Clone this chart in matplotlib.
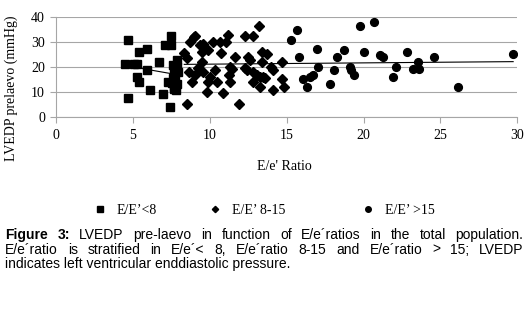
import matplotlib
matplotlib.use('Agg')
import matplotlib.pyplot as plt
from matplotlib.lines import Line2D
import numpy as np

# E/e' < 8 (squares)
sq_x = [4.66, 4.49, 5.05, 5.3, 5.38, 5.95, 5.95, 5.25, 5.42, 4.66, 6.1, 6.7, 6.94, 7.1,
        7.45, 7.46, 7.4, 7.3, 7.63, 7.85, 7.7, 7.75, 7.8, 7.65, 7.9, 7.7, 7.8, 7.6,
        7.95, 7.7, 7.85, 7.55]
sq_y = [30.9, 21.1, 21.2, 21.2, 26.2, 27.2, 18.8, 16.1, 14.1, 7.4, 10.8, 22.0, 9.2, 29.0,
        29.0, 32.4, 4.0, 14.1, 20.8, 22.9, 17.5, 16.0, 19.0, 14.5, 13.0, 12.0, 10.8, 15.5,
        18.0, 11.0, 20.0, 13.5]

# E/e' 8-15 (diamonds)
dm_x = [8.34, 8.5, 8.5, 8.71, 8.97, 8.67, 8.82, 9.04, 9.36, 9.47, 9.25, 9.47, 9.58, 9.8,
        9.9, 10.0, 9.9, 10.23, 10.34, 10.5, 10.7, 10.66, 10.88, 11.05, 11.2, 11.3, 11.27,
        11.3, 11.64, 11.9, 11.42, 12.29, 12.79, 13.2, 12.5, 12.6, 12.29, 12.4, 12.83,
        13.05, 13.26, 13.48, 13.59, 13.26, 12.79, 13.37, 13.74, 13.37, 14.0, 14.13, 14.09,
        14.67, 14.67, 14.82, 9.04, 9.58]
dm_y = [25.6, 23.5, 5.0, 30.2, 32.0, 18.1, 14.1, 16.8, 28.9, 26.2, 19.5, 22.2, 18.1, 10.1,
        26.9, 16.1, 14.1, 30.2, 18.8, 14.1, 25.8, 30.2, 9.4, 30.2, 32.9, 20.2, 16.8,
        14.1, 24.2, 5.0, 19.1, 32.3, 32.3, 36.6, 24.2, 22.9, 19.5, 18.8, 18.1,
        16.8, 16.1, 16.1, 15.5, 12.1, 14.1, 26.2, 25.2, 22.2, 20.2, 18.8, 10.8,
        22.2, 15.1, 12.1, 32.5, 29.2]

# E/e' > 15 (circles)
ci_x = [15.26, 15.65, 15.8, 16.95, 17.06, 16.04, 16.34, 16.51, 16.73, 17.8, 18.08, 18.29,
        18.73, 19.1, 19.16, 19.4, 19.75, 20.7, 20.0, 21.07, 21.24, 21.93, 22.1, 22.8,
        23.2, 23.6, 23.56, 24.58, 26.16, 29.73]
ci_y = [30.8, 35.0, 24.2, 27.2, 20.2, 15.1, 12.1, 16.1, 16.8, 13.0, 18.8, 24.2,
        26.9, 20.2, 18.8, 16.8, 36.3, 38.0, 26.0, 25.0, 24.2, 16.1, 20.0, 26.1,
        19.0, 19.0, 22.2, 24.2, 11.9, 25.2]

labels = ['E/E\u2019<8', 'E/E\u2019 8-15', 'E/E\u2019 >15']
markers = ['s', 'D', 'o']
sizes = [5.8, 4.6, 5.6]

serif = 'Liberation Serif'
sans = 'Liberation Sans'
W, H = 529, 310

fig = plt.figure(figsize=(W / 100, H / 100), dpi=100)
ax = fig.add_axes([56 / W, 1 - 116.7 / H, (517.3 - 56) / W, (116.7 - 17.3) / H])

series = [(sq_x, sq_y), (dm_x, dm_y), (ci_x, ci_y)]
for (xs, ys), m, s in zip(series, markers, sizes):
    ax.plot(xs, ys, linestyle='none', marker=m, markersize=s, color='black', zorder=3)

# linear trend lines: E/e'<8 alone, and E/e' >= 8 (diamonds + circles) together
fits = [(sq_x, sq_y), (dm_x + ci_x, dm_y + ci_y)]
for xs, ys in fits:
    k, b = np.polyfit(xs, ys, 1)
    xx = np.array([min(xs), max(xs)])
    ax.plot(xx, k * xx + b, color='black', linewidth=0.8, zorder=4)

ax.set_xlim(0, 30)
ax.set_ylim(0, 40)
ax.set_xticks(range(0, 31, 5))
ax.set_yticks(range(0, 41, 10))
ax.yaxis.grid(True, color='#a6a6a6', linewidth=0.8)
ax.set_axisbelow(True)
for sp in ['top', 'right']:
    ax.spines[sp].set_visible(False)
for sp in ['left', 'bottom']:
    ax.spines[sp].set_color('#a6a6a6')
    ax.spines[sp].set_linewidth(0.8)
ax.tick_params(axis='both', colors='#a6a6a6', labelcolor='black', length=4, width=0.8,
               labelsize=10)
for t in ax.get_xticklabels() + ax.get_yticklabels():
    t.set_fontfamily(serif)
ax.tick_params(axis='x', pad=5)
ax.tick_params(axis='y', pad=4)

ax.set_xlabel("E/e' Ratio", fontfamily=serif, fontsize=10)
ax.xaxis.label.set_va('center')
ax.xaxis.set_label_coords(0.496, -0.496)
ax.set_ylabel('LVEDP prelaevo (mmHg)', fontfamily=serif, fontsize=10)
ax.yaxis.label.set_va('center')
ax.yaxis.set_label_coords(-0.0975, 0.289)

# legend, one entry at a time (unequal spacing like the original)
leg_x = [93, 208, 361]
for lx, lab, m in zip(leg_x, labels, markers):
    h = Line2D([], [], linestyle='none', marker=m, color='black',
               markersize={'s': 5, 'D': 3.2, 'o': 4}[m])
    lg = fig.legend(handles=[h], labels=[lab], loc='center left',
                    bbox_to_anchor=(lx / W, 1 - 210 / H), frameon=False,
                    handlelength=1.0, handletextpad=0.7, borderpad=0, borderaxespad=0,
                    prop={'family': serif, 'size': 10})

# caption, justified
cap_lines = [
    [('Figure', True), ('3:', True), ('LVEDP', False), ('pre-laevo', False), ('in', False),
     ('function', False), ('of', False), ('E/e\u00b4ratios', False), ('in', False),
     ('the', False), ('total', False), ('population.', False)],
    [('E/e\u00b4ratio', False), ('is', False), ('stratified', False), ('in', False),
     ('E/e\u00b4<', False), ('8,', False), ('E/e\u00b4ratio', False), ('8-15', False),
     ('and', False), ('E/e\u00b4ratio', False), ('>', False), ('15;', False), ('LVEDP', False)],
]
last_line = 'indicates left ventricular enddiastolic pressure.'
base_y = [239, 253.5, 268]
x_left, x_right = 5, 523.5
cap_size = 10

renderer = fig.canvas.get_renderer()
for words, yb in zip(cap_lines, base_y):
    objs = []
    for w, bold in words:
        t = fig.text(0, 1 - yb / H, w, fontfamily=sans, fontsize=cap_size,
                     fontweight='bold' if bold else 'normal', va='baseline', ha='left')
        objs.append(t)
    widths = [t.get_window_extent(renderer).width for t in objs]
    gap = (x_right - x_left - sum(widths)) / (len(objs) - 1)
    x = x_left
    for t, w in zip(objs, widths):
        t.set_x(x / W)
        x += w + gap
fig.text(x_left / W, 1 - base_y[2] / H, last_line, fontfamily=sans, fontsize=cap_size,
         va='baseline', ha='left')

fig.savefig('out.png', dpi=100)
